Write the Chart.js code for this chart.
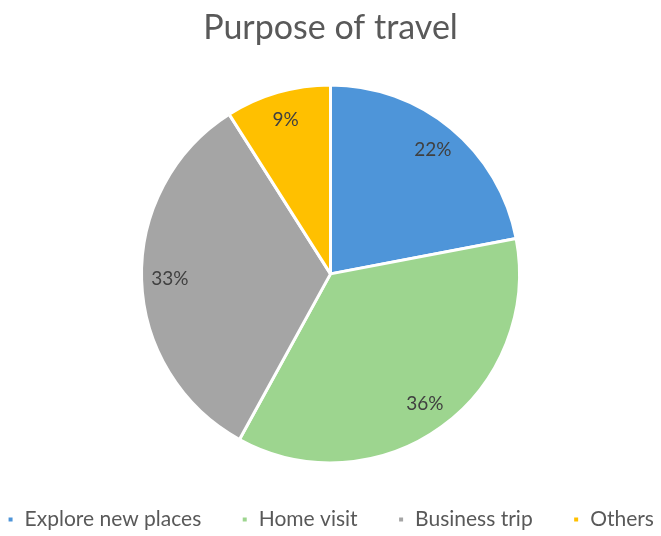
<!DOCTYPE html>
<html>
<head>
<meta charset="utf-8">
<script src="https://cdn.jsdelivr.net/npm/chart.js@4/dist/chart.umd.min.js"></script>
<style>
    html, body { margin: 0; padding: 0; background: #fff; }
    #wrap { width: 661px; height: 536px; }
</style>
</head>
<body>
<div id="wrap"><canvas id="myChart"></canvas></div>
<script>
const categorias = ["Explore new places", "Home visit", "Business trip", "Others"];
const percentuais = [22, 36, 33, 9];
const cores = ["#4e95d9", "#9dd58f", "#a5a5a5", "#ffc000"];

// rotulos dentro das fatias, como no Excel
const rotulosPlugin = {
    id: "rotulos",
    afterDatasetsDraw(chart) {
        let ctx = chart.ctx;
        let meta = chart.getDatasetMeta(0);
        ctx.save();
        ctx.font = "19px Lato";
        ctx.fillStyle = "#404040";
        ctx.textAlign = "center";
        ctx.textBaseline = "middle";
        meta.data.forEach((arc, i) => {
            let meio = (arc.startAngle + arc.endAngle) / 2;
            let r = arc.outerRadius * 0.85;
            ctx.fillText(percentuais[i] + "%", arc.x + Math.cos(meio) * r, arc.y + Math.sin(meio) * r);
        });
        ctx.restore();
    },
};

let ctx = document.getElementById("myChart").getContext("2d");

let myChart = new Chart(ctx, {
    type: "pie",
    data: {
        labels: categorias,
        datasets: [
            {
                data: percentuais,
                backgroundColor: cores,
                borderColor: "#ffffff",
                borderWidth: 3,
                radius: 189,
            },
        ],
    },
    options: {
        responsive: true,
        maintainAspectRatio: false,
        animation: false,
        // padding negativo para a legenda caber numa linha so
        layout: { padding: { top: 0, left: -36, right: -36, bottom: -4 } },
        plugins: {
            title: {
                display: true,
                text: "Purpose of travel",
                color: "#595959",
                font: { family: "Lato", size: 34, weight: "normal" },
                padding: { top: 8, bottom: 30 },
            },
            legend: {
                position: "bottom",
                labels: {
                    color: "#595959",
                    font: { family: "Lato", size: 21 },
                    boxWidth: 7,
                    boxHeight: 7,
                    padding: 40,
                },
            },
            tooltip: { enabled: false },
        },
    },
    plugins: [rotulosPlugin],
});
</script>
</body>
</html>
